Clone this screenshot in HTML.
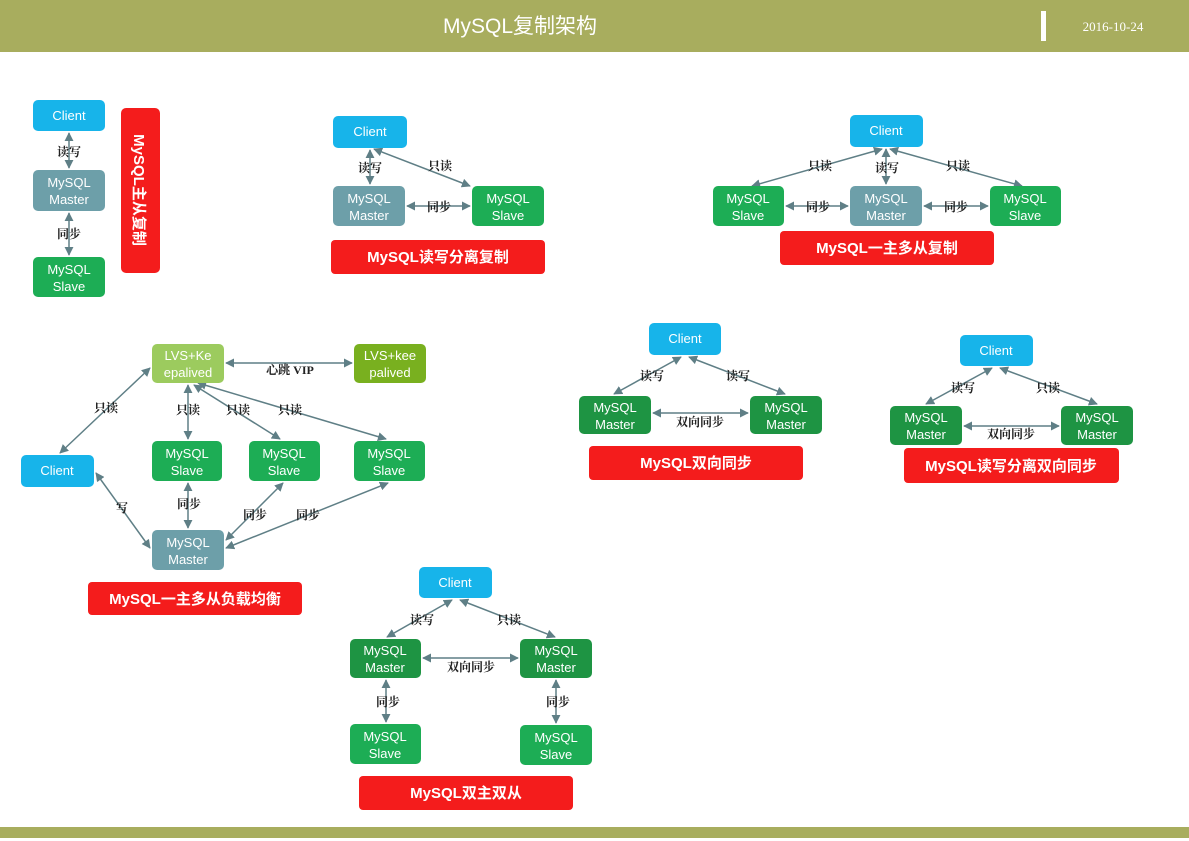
<!DOCTYPE html>
<html><head><meta charset="utf-8"><style>
html,body{margin:0;padding:0;background:#fff;}
svg{display:block;}
.n{font-family:"Liberation Sans","Noto Sans CJK SC",sans-serif;font-size:13px;fill:#fff;text-anchor:middle;}
.l{font-family:"Liberation Serif","Noto Serif CJK SC",serif;font-size:12px;font-weight:bold;fill:#222;text-anchor:middle;}
.r{font-family:"Liberation Sans","Noto Sans CJK SC",sans-serif;font-size:15px;font-weight:bold;fill:#fff;text-anchor:middle;}
line{stroke:#5f7f86;stroke-width:1.5;marker-start:url(#a);marker-end:url(#a);}
</style></head><body>
<svg width="1189" height="841" viewBox="0 0 1189 841" xmlns="http://www.w3.org/2000/svg">
<defs><marker id="a" viewBox="0 0 10 10" refX="9" refY="5" markerWidth="6" markerHeight="6" orient="auto-start-reverse"><path d="M0,0L10,5L0,10z" fill="#5f7f86"/></marker></defs>
<rect x="0" y="0" width="1189" height="52" fill="#a8ad5e"/>
<text x="520" y="33" font-family="'Liberation Sans','Noto Sans CJK SC',sans-serif" font-size="21" fill="#fff" text-anchor="middle">MySQL复制架构</text>
<rect x="1041" y="11" width="5" height="30" fill="#fff"/>
<text x="1113" y="31" font-family="'Liberation Serif',serif" font-size="13" fill="#fff" text-anchor="middle">2016-10-24</text>
<rect x="0" y="827" width="1189" height="11" fill="#a8ad5e"/>

<!-- D1 -->
<line x1="69" y1="133" x2="69" y2="168"/><line x1="69" y1="213" x2="69" y2="255"/>
<text class="l" x="69" y="156">读写</text><text class="l" x="69" y="238">同步</text>
<rect x="33" y="100" width="72" height="31" rx="5" fill="#17b4ea"/><text class="n" x="69" y="120">Client</text>
<rect x="33" y="170" width="72" height="41" rx="5" fill="#6d9fa9"/><text class="n" x="69" y="187">MySQL</text><text class="n" x="69" y="204">Master</text>
<rect x="33" y="257" width="72" height="40" rx="5" fill="#1dad55"/><text class="n" x="69" y="274">MySQL</text><text class="n" x="69" y="291">Slave</text>
<rect x="121" y="108" width="39" height="165" rx="5" fill="#f41c1c"/>
<text class="r" transform="translate(134,190) rotate(90)">MySQL主从复制</text>

<!-- D2 -->
<line x1="370" y1="150" x2="370" y2="184"/><line x1="374" y1="149" x2="470" y2="186"/><line x1="407" y1="206" x2="470" y2="206"/>
<text class="l" x="370" y="172">读写</text><text class="l" x="440" y="170">只读</text><text class="l" x="439" y="211">同步</text>
<rect x="333" y="116" width="74" height="32" rx="5" fill="#17b4ea"/><text class="n" x="370" y="136">Client</text>
<rect x="333" y="186" width="72" height="40" rx="5" fill="#6d9fa9"/><text class="n" x="369" y="203">MySQL</text><text class="n" x="369" y="220">Master</text>
<rect x="472" y="186" width="72" height="40" rx="5" fill="#1dad55"/><text class="n" x="508" y="203">MySQL</text><text class="n" x="508" y="220">Slave</text>
<rect x="331" y="240" width="214" height="34" rx="4" fill="#f41c1c"/><text class="r" x="438" y="262">MySQL读写分离复制</text>

<!-- D3 -->
<line x1="886" y1="149" x2="886" y2="184"/><line x1="882" y1="149" x2="752" y2="186"/><line x1="890" y1="149" x2="1022" y2="186"/>
<line x1="786" y1="206" x2="848" y2="206"/><line x1="924" y1="206" x2="988" y2="206"/>
<text class="l" x="820" y="170">只读</text><text class="l" x="887" y="172">读写</text><text class="l" x="958" y="170">只读</text>
<text class="l" x="818" y="211">同步</text><text class="l" x="956" y="211">同步</text>
<rect x="850" y="115" width="73" height="32" rx="5" fill="#17b4ea"/><text class="n" x="886" y="135">Client</text>
<rect x="850" y="186" width="72" height="40" rx="5" fill="#6d9fa9"/><text class="n" x="886" y="203">MySQL</text><text class="n" x="886" y="220">Master</text>
<rect x="713" y="186" width="71" height="40" rx="5" fill="#1dad55"/><text class="n" x="748" y="203">MySQL</text><text class="n" x="748" y="220">Slave</text>
<rect x="990" y="186" width="71" height="40" rx="5" fill="#1dad55"/><text class="n" x="1025" y="203">MySQL</text><text class="n" x="1025" y="220">Slave</text>
<rect x="780" y="231" width="214" height="34" rx="4" fill="#f41c1c"/><text class="r" x="887" y="253">MySQL一主多从复制</text>

<!-- D4 -->
<line x1="226" y1="363" x2="352" y2="363"/><text class="l" x="290" y="374">心跳 VIP</text>
<line x1="150" y1="368" x2="60" y2="453"/><text class="l" x="106" y="412">只读</text>
<line x1="188" y1="385" x2="188" y2="439"/><text class="l" x="188" y="414">只读</text>
<line x1="194" y1="385" x2="280" y2="439"/><text class="l" x="238" y="414">只读</text>
<line x1="198" y1="383" x2="386" y2="439"/><text class="l" x="290" y="414">只读</text>
<line x1="96" y1="473" x2="150" y2="548"/><text class="l" x="122" y="512">写</text>
<line x1="188" y1="483" x2="188" y2="528"/><text class="l" x="189" y="508">同步</text>
<line x1="226" y1="540" x2="283" y2="483"/><text class="l" x="255" y="519">同步</text>
<line x1="226" y1="548" x2="388" y2="483"/><text class="l" x="308" y="519">同步</text>
<rect x="152" y="344" width="72" height="39" rx="5" fill="#9ccb5e"/><text class="n" x="188" y="360">LVS+Ke</text><text class="n" x="188" y="377">epalived</text>
<rect x="354" y="344" width="72" height="39" rx="5" fill="#79b01f"/><text class="n" x="390" y="360">LVS+kee</text><text class="n" x="390" y="377">palived</text>
<rect x="21" y="455" width="73" height="32" rx="5" fill="#17b4ea"/><text class="n" x="57" y="475">Client</text>
<rect x="152" y="441" width="70" height="40" rx="5" fill="#1dad55"/><text class="n" x="187" y="458">MySQL</text><text class="n" x="187" y="475">Slave</text>
<rect x="249" y="441" width="71" height="40" rx="5" fill="#1dad55"/><text class="n" x="284" y="458">MySQL</text><text class="n" x="284" y="475">Slave</text>
<rect x="354" y="441" width="71" height="40" rx="5" fill="#1dad55"/><text class="n" x="389" y="458">MySQL</text><text class="n" x="389" y="475">Slave</text>
<rect x="152" y="530" width="72" height="40" rx="5" fill="#6d9fa9"/><text class="n" x="188" y="547">MySQL</text><text class="n" x="188" y="564">Master</text>
<rect x="88" y="582" width="214" height="33" rx="4" fill="#f41c1c"/><text class="r" x="195" y="604">MySQL一主多从负载均衡</text>

<!-- D5 -->
<line x1="681" y1="357" x2="614" y2="394"/><line x1="689" y1="357" x2="785" y2="394"/><line x1="653" y1="413" x2="748" y2="413"/>
<text class="l" x="652" y="380">读写</text><text class="l" x="738" y="380">读写</text><text class="l" x="700" y="426">双向同步</text>
<rect x="649" y="323" width="72" height="32" rx="5" fill="#17b4ea"/><text class="n" x="685" y="343">Client</text>
<rect x="579" y="396" width="72" height="38" rx="5" fill="#1e9443"/><text class="n" x="615" y="412">MySQL</text><text class="n" x="615" y="429">Master</text>
<rect x="750" y="396" width="72" height="38" rx="5" fill="#1e9443"/><text class="n" x="786" y="412">MySQL</text><text class="n" x="786" y="429">Master</text>
<rect x="589" y="446" width="214" height="34" rx="4" fill="#f41c1c"/><text class="r" x="696" y="468">MySQL双向同步</text>

<!-- D6 -->
<line x1="992" y1="368" x2="926" y2="404"/><line x1="1000" y1="368" x2="1097" y2="404"/><line x1="964" y1="426" x2="1059" y2="426"/>
<text class="l" x="963" y="392">读写</text><text class="l" x="1048" y="392">只读</text><text class="l" x="1011" y="438">双向同步</text>
<rect x="960" y="335" width="73" height="31" rx="5" fill="#17b4ea"/><text class="n" x="996" y="355">Client</text>
<rect x="890" y="406" width="72" height="39" rx="5" fill="#1e9443"/><text class="n" x="926" y="422">MySQL</text><text class="n" x="926" y="439">Master</text>
<rect x="1061" y="406" width="72" height="39" rx="5" fill="#1e9443"/><text class="n" x="1097" y="422">MySQL</text><text class="n" x="1097" y="439">Master</text>
<rect x="904" y="448" width="215" height="35" rx="4" fill="#f41c1c"/><text class="r" x="1011" y="471">MySQL读写分离双向同步</text>

<!-- D7 -->
<line x1="452" y1="600" x2="387" y2="637"/><line x1="460" y1="600" x2="555" y2="637"/><line x1="423" y1="658" x2="518" y2="658"/>
<line x1="386" y1="680" x2="386" y2="722"/><line x1="556" y1="680" x2="556" y2="723"/>
<text class="l" x="422" y="624">读写</text><text class="l" x="509" y="624">只读</text><text class="l" x="471" y="671">双向同步</text>
<text class="l" x="388" y="706">同步</text><text class="l" x="558" y="706">同步</text>
<rect x="419" y="567" width="73" height="31" rx="5" fill="#17b4ea"/><text class="n" x="455" y="587">Client</text>
<rect x="350" y="639" width="71" height="39" rx="5" fill="#1e9443"/><text class="n" x="385" y="655">MySQL</text><text class="n" x="385" y="672">Master</text>
<rect x="520" y="639" width="72" height="39" rx="5" fill="#1e9443"/><text class="n" x="556" y="655">MySQL</text><text class="n" x="556" y="672">Master</text>
<rect x="350" y="724" width="71" height="40" rx="5" fill="#1dad55"/><text class="n" x="385" y="741">MySQL</text><text class="n" x="385" y="758">Slave</text>
<rect x="520" y="725" width="72" height="40" rx="5" fill="#1dad55"/><text class="n" x="556" y="742">MySQL</text><text class="n" x="556" y="759">Slave</text>
<rect x="359" y="776" width="214" height="34" rx="4" fill="#f41c1c"/><text class="r" x="466" y="798">MySQL双主双从</text>
</svg>
</body></html>
